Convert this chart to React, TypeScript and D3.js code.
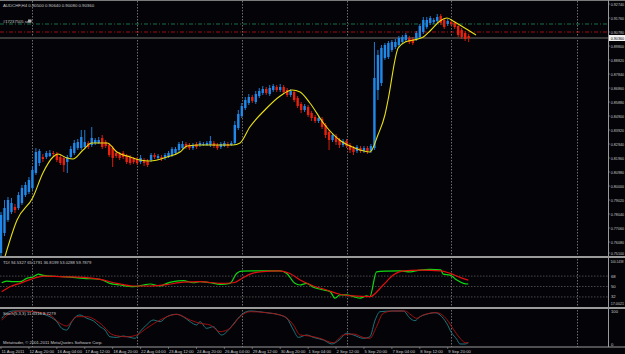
import React from "react";
import * as d3 from "d3";

// ---- candles (H4 bars, index 0 = 11 Aug 12:00) ----
const barOpen = [0.7531,0.7671,0.7762,0.7818,0.7853,0.7846,0.7881,0.7937,0.7958,0.7986,0.8091,0.8161,0.8203,0.8203,0.8210,0.8231,0.8224,0.8203,0.8196,0.8168,0.8203,0.8231,0.8266,0.8266,0.8273,0.8301,0.8287,0.8301,0.8301,0.8336,0.8308,0.8287,0.8266,0.8231,0.8224,0.8231,0.8210,0.8203,0.8189,0.8189,0.8168,0.8182,0.8175,0.8182,0.8217,0.8196,0.8203,0.8196,0.8203,0.8217,0.8231,0.8252,0.8266,0.8294,0.8287,0.8266,0.8294,0.8287,0.8287,0.8287,0.8287,0.8301,0.8287,0.8273,0.8280,0.8294,0.8287,0.8301,0.8406,0.8490,0.8546,0.8581,0.8623,0.8588,0.8630,0.8651,0.8679,0.8644,0.8672,0.8693,0.8672,0.8693,0.8672,0.8637,0.8658,0.8616,0.8574,0.8532,0.8553,0.8511,0.8483,0.8455,0.8469,0.8427,0.8378,0.8322,0.8350,0.8322,0.8287,0.8315,0.8287,0.8266,0.8245,0.8266,0.8245,0.8266,0.8245,0.8266,0.8672,0.8721,0.8896,0.8903,0.8952,0.8973,0.8987,0.9008,0.9022,0.9036,0.9029,0.9029,0.9043,0.9078,0.9113,0.9141,0.9148,0.9155,0.9190,0.9162,0.9134,0.9148,0.9141,0.9120,0.9092,0.9071,0.9050];
const barHigh = [0.7818,0.7902,0.7923,0.7916,0.7874,0.7958,0.8007,0.8028,0.8063,0.8140,0.8266,0.8259,0.8224,0.8245,0.8252,0.8245,0.8238,0.8217,0.8210,0.8217,0.8280,0.8322,0.8329,0.8392,0.8392,0.8315,0.8413,0.8336,0.8343,0.8357,0.8322,0.8301,0.8280,0.8245,0.8238,0.8245,0.8224,0.8217,0.8203,0.8203,0.8217,0.8196,0.8189,0.8231,0.8231,0.8224,0.8217,0.8231,0.8245,0.8273,0.8273,0.8308,0.8315,0.8308,0.8301,0.8301,0.8308,0.8315,0.8308,0.8315,0.8350,0.8315,0.8301,0.8308,0.8315,0.8308,0.8315,0.8455,0.8532,0.8581,0.8623,0.8644,0.8637,0.8665,0.8686,0.8700,0.8693,0.8707,0.8714,0.8707,0.8714,0.8707,0.8686,0.8679,0.8672,0.8630,0.8588,0.8574,0.8567,0.8525,0.8497,0.8490,0.8483,0.8441,0.8392,0.8371,0.8364,0.8336,0.8329,0.8329,0.8301,0.8280,0.8287,0.8280,0.8280,0.8280,0.8294,0.9008,0.8952,0.8987,0.9001,0.9015,0.9022,0.9029,0.9050,0.9057,0.9071,0.9050,0.9043,0.9085,0.9134,0.9183,0.9183,0.9190,0.9176,0.9204,0.9204,0.9176,0.9169,0.9162,0.9155,0.9134,0.9106,0.9085,0.9064];
const barLow = [0.7510,0.7650,0.7748,0.7804,0.7811,0.7832,0.7867,0.7923,0.7944,0.7972,0.8077,0.8140,0.8168,0.8189,0.8203,0.8210,0.8168,0.8147,0.8098,0.8091,0.8189,0.8217,0.8252,0.8252,0.8259,0.8259,0.8273,0.8287,0.8294,0.8259,0.8266,0.8203,0.8133,0.8196,0.8182,0.8189,0.8154,0.8147,0.8154,0.8147,0.8154,0.8140,0.8133,0.8168,0.8189,0.8182,0.8175,0.8182,0.8196,0.8203,0.8217,0.8238,0.8259,0.8259,0.8252,0.8252,0.8259,0.8273,0.8280,0.8280,0.8273,0.8266,0.8252,0.8259,0.8273,0.8266,0.8280,0.8287,0.8392,0.8476,0.8532,0.8567,0.8581,0.8574,0.8616,0.8637,0.8637,0.8630,0.8658,0.8658,0.8658,0.8644,0.8623,0.8623,0.8588,0.8546,0.8511,0.8518,0.8483,0.8455,0.8441,0.8441,0.8399,0.8336,0.8252,0.8308,0.8287,0.8266,0.8273,0.8266,0.8231,0.8217,0.8231,0.8231,0.8231,0.8224,0.8231,0.8252,0.8602,0.8700,0.8882,0.8889,0.8938,0.8959,0.8973,0.8994,0.9008,0.8994,0.8987,0.9015,0.9029,0.9064,0.9099,0.9127,0.9134,0.9141,0.9127,0.9099,0.9120,0.9120,0.9099,0.9043,0.9029,0.9015,0.9008];
const barClose = [0.7797,0.7846,0.7902,0.7881,0.7832,0.7937,0.7986,0.8007,0.8042,0.8112,0.8238,0.8245,0.8189,0.8231,0.8231,0.8224,0.8182,0.8161,0.8147,0.8203,0.8259,0.8301,0.8308,0.8343,0.8308,0.8273,0.8336,0.8322,0.8322,0.8273,0.8280,0.8217,0.8196,0.8210,0.8196,0.8203,0.8168,0.8161,0.8168,0.8161,0.8196,0.8161,0.8147,0.8217,0.8203,0.8210,0.8189,0.8217,0.8231,0.8259,0.8259,0.8294,0.8294,0.8273,0.8266,0.8287,0.8273,0.8301,0.8294,0.8301,0.8315,0.8280,0.8266,0.8294,0.8301,0.8280,0.8301,0.8427,0.8504,0.8560,0.8602,0.8623,0.8595,0.8644,0.8665,0.8679,0.8651,0.8686,0.8700,0.8672,0.8693,0.8658,0.8637,0.8665,0.8602,0.8560,0.8532,0.8560,0.8497,0.8476,0.8455,0.8476,0.8413,0.8357,0.8322,0.8357,0.8308,0.8287,0.8315,0.8280,0.8252,0.8238,0.8273,0.8245,0.8266,0.8245,0.8280,0.8756,0.8917,0.8966,0.8987,0.9001,0.9008,0.9008,0.9036,0.9043,0.9057,0.9008,0.9001,0.9071,0.9120,0.9162,0.9162,0.9176,0.9162,0.9183,0.9141,0.9113,0.9155,0.9134,0.9113,0.9057,0.9043,0.9029,0.9036];

// ---- moving average (bar index, price) ----
const maPoints: [number, number][] = [[1.1,0.7503],[4.6,0.7762],[9.2,0.7923],[12,0.8091],[14.9,0.8203],[16.3,0.8224],[18.9,0.8196],[20.6,0.8189],[23.5,0.8252],[26,0.8301],[28.4,0.8301],[30.4,0.8301],[33.2,0.8238],[37,0.8203],[39.8,0.8182],[42.7,0.8175],[47.6,0.8203],[51.3,0.8238],[53.3,0.8280],[57,0.8287],[66.5,0.8287],[68.5,0.8301],[71.3,0.8413],[75.6,0.8532],[80,0.8630],[83.4,0.8672],[85.7,0.8658],[88.5,0.8581],[92.8,0.8427],[97,0.8322],[101.4,0.8266],[105.7,0.8238],[108,0.8357],[110,0.8497],[110.9,0.8602],[113.8,0.8966],[115.8,0.9008],[119.5,0.9029],[121,0.9043],[123.2,0.9092],[125.8,0.9155],[127.8,0.9176],[130,0.9148],[132.4,0.9113],[136.1,0.9057]];

// ---- TDI ----
const tdiGreen: [number, number][] = [[0.2,56.5],[1.6,59.4],[3.5,58.3],[5.4,58.3],[7.4,64],[9.3,66.8],[10.7,71.4],[12.1,69.2],[14,68],[18.8,66.8],[23.6,64],[28.4,62.3],[31.2,55.5],[34.1,52.6],[37.9,49.7],[40.8,52.6],[42.7,54.3],[45.6,50.9],[47.5,55.5],[49.4,58.3],[52.2,60],[55.1,56.5],[57,58.3],[59.9,56.5],[62.8,53.8],[65.6,55.5],[67.5,72.6],[69,76.6],[72.3,77.1],[76.1,77.1],[79.9,77.1],[81.9,72.6],[84.2,55.5],[85.7,52.6],[87.6,55.5],[89.5,48.6],[92.4,44],[94.3,41.1],[95.7,29.8],[97.1,35.4],[99,35.4],[101,32.5],[102.9,29.8],[104.8,33.7],[105.7,32.5],[107.6,75.4],[110.5,76.6],[114.3,77.1],[117.2,75.4],[120,78.3],[123,79.5],[126,78.8],[126.7,71.4],[128.7,69.7],[130.6,61.1],[132.5,55.5],[133.9,54.3]];
const tdiRed: [number, number][] = [[0.2,41.1],[2.6,49.7],[5.4,55.5],[9.3,64],[12.1,68],[18.8,66.8],[23.6,65.8],[28.4,62.3],[33.2,55.5],[37.9,50.9],[42.7,50.9],[47.5,53.1],[52.2,57.7],[57,58.3],[62.8,55.5],[66.6,56.5],[69,64],[71.4,71.4],[74.2,75.4],[79.9,77.1],[82.8,72.6],[85.7,61.1],[89.5,50.9],[93.3,44],[97.1,36.6],[101,33.7],[105.7,32.5],[109.5,52.6],[112.4,69.7],[115.3,77.1],[120,78.3],[126,77.1],[128.7,72.6],[131.5,65.8],[133.9,61.1]];
const tdiLevels = [68, 50, 32];
const tdiScaleLabels = ["100.1438", "17.0021"];

// ---- Stochastic ----
const stochMain: [number, number][] = [[0.2,77.9],[1.6,93],[3.5,100],[7.4,100],[11.2,93],[14,82.7],[16,67.6],[17.4,47.5],[18.8,42.4],[20.3,67.6],[21.7,84.8],[22.6,87.9],[24.6,77.9],[26.4,70.6],[28.4,52.4],[29.8,42.4],[31.2,22],[33.2,20],[35,24.2],[37,20],[38.4,17.2],[39.8,37.3],[41.7,57.6],[43.6,72.7],[45.6,67.6],[47.5,82.7],[50.3,90],[52.2,82.7],[54.2,67.6],[56.1,57.6],[57,67.6],[58.9,47.5],[60.8,52.4],[63.2,27.3],[65.6,47.5],[67.5,72.7],[69.4,93],[71.4,100],[76.1,94.8],[79.9,87.9],[81.9,77.9],[83.8,42.4],[85.2,20],[87.6,27.3],[89.5,20],[92.4,12.1],[94.8,0],[97.1,14.2],[99,32.4],[101,27.3],[103.8,17.2],[105.7,22],[107.2,72.7],[108.6,97.9],[112.4,100],[115.3,100],[117.2,77.9],[118.6,70.6],[120,82.7],[121.5,88.8],[124.3,94.8],[125.8,87.9],[127.7,62.7],[129.1,34.2],[130.6,14.2],[131.5,0],[133,0],[133.9,3.9]];
const stochSignal: [number, number][] = [[0.2,72.7],[2.6,93],[5.4,100],[9.3,97.9],[14,87.9],[16.9,62.7],[18.8,54.5],[21.7,82.7],[24.6,82.7],[28.4,62.7],[32.2,27.3],[36,22],[38.9,27.3],[41.7,47.5],[45.6,72.7],[50.3,90],[54.2,72.7],[57,62.7],[59.9,57.6],[62.8,37.3],[65.6,47.5],[68.5,82.7],[71.4,97.9],[76.1,94.8],[80.9,84.8],[83.8,57.6],[85.7,27.3],[88.5,24.2],[91.4,17.2],[95.2,3.9],[98.1,27.3],[101,30.3],[103.8,20],[105.7,17.2],[107.6,52.4],[109.5,93],[112.4,100],[115.8,100],[117.5,88],[119.1,78],[121,88],[124.8,95],[127.7,75],[129.6,45],[131.5,18],[133,4],[133.9,3.9]];
const stochScaleLabels = ["100", "0"];

// ---- axes ----
const priceTicks = ["0.92740","0.91760","0.90780","0.89800","0.88820","0.87840","0.86860","0.85880","0.84900","0.83920","0.82940","0.81960","0.80980","0.80000","0.79020","0.78040","0.77060","0.76080","0.75100"];
const dateLabels = ["11 Aug 2011","12 Aug 20:00","16 Aug 04:00","17 Aug 12:00","18 Aug 20:00","22 Aug 04:00","23 Aug 12:00","24 Aug 20:00","26 Aug 04:00","29 Aug 12:00","30 Aug 20:00","1 Sep 04:00","2 Sep 12:00","5 Sep 20:00","7 Sep 04:00","8 Sep 12:00","9 Sep 20:00"];
const dateLabelBars = [0,8,16,24,32,40,48,56,64,72,80,88,96,104,112,120,128];
const gridBars = [9,39,69,99,129,165];
const orderLevels = [0.9134, 0.9078];
const orderLabel = "#17237505 sell";

const FONT = "'Liberation Sans', Arial, sans-serif";
const TXT = "#c8c8c8";

export default function App() {
  const n = barClose.length;
  const x = d3.scaleLinear().domain([0, n - 1]).range([1, 1 + (n - 1) * 3.49]);
  const yP = d3.scaleLinear().domain([0.7517, 0.9274]).range([255, 4]);
  const yT = d3.scaleLinear().domain([17.0021, 100.1438]).range([305.6, 257.5]);
  const yS = d3.scaleLinear().domain([0, 100]).range([344, 311]);

  const mk = (ys: d3.ScaleLinear<number, number>) =>
    d3.line<[number, number]>().x((d) => x(d[0])).y((d) => ys(d[1])).curve(d3.curveMonotoneX);

  const plotRight = 608;
  const last = n - 1;
  const header = `AUDCHF,H4 ${barOpen[last].toFixed(5)} ${barHigh[last].toFixed(5)} ${barLow[last].toFixed(5)} ${barClose[last].toFixed(5)}`;
  const bidY = yP(barClose[last]);
  const axisText = (s: string) => ({
    textLength: Math.min(13.2, s.length * 2.05),
    lengthAdjust: "spacingAndGlyphs" as const,
  });

  return (
    <div style={{ position: "fixed", left: 0, top: 0, width: 625, height: 354, background: "#000" }}>
      <svg width={625} height={354} style={{ display: "block", fontFamily: FONT }}>
        <rect x={0} y={0} width={625} height={354} fill="#040408" />
        <defs>
          <clipPath id="cMain"><rect x={0} y={1} width={plotRight} height={255} /></clipPath>
          <clipPath id="cTdi"><rect x={0} y={259} width={plotRight} height={48} /></clipPath>
          <clipPath id="cSto"><rect x={0} y={310} width={plotRight} height={36} /></clipPath>
        </defs>

        {/* vertical grid */}
        {gridBars.map((b) => (
          <line key={"g" + b} x1={Math.round(x(b)) + 0.5} x2={Math.round(x(b)) + 0.5} y1={1} y2={347}
            stroke="#8a8a8a" strokeWidth={0.8} strokeDasharray="1.5,1.5" />
        ))}

        {/* TDI levels */}
        {tdiLevels.map((v) => (
          <line key={"l" + v} x1={0} x2={plotRight} y1={yT(v)} y2={yT(v)} stroke="#777" strokeWidth={0.6} strokeDasharray="1.5,1.5" />
        ))}

        {/* bid line & order lines */}
        <line x1={0} x2={plotRight} y1={bidY} y2={bidY} stroke="#3a3a3a" strokeWidth={2} />
        <line x1={0} x2={plotRight} y1={yP(orderLevels[0])} y2={yP(orderLevels[0])} stroke="#1f8a5a" strokeWidth={0.8} strokeDasharray="4,2,1,2" />
        <line x1={0} x2={plotRight} y1={yP(orderLevels[1])} y2={yP(orderLevels[1])} stroke="#c81010" strokeWidth={0.8} strokeDasharray="4,2,1,2" />

        {/* candles */}
        <g clipPath="url(#cMain)">
          {barClose.map((c, i) => {
            const o = barOpen[i];
            const up = c >= o;
            const col = up ? "#2088e8" : "#e8200c";
            const cx = x(i);
            const top = yP(Math.max(o, c));
            const bot = yP(Math.min(o, c));
            return (
              <g key={"c" + i}>
                <line x1={cx} x2={cx} y1={yP(barHigh[i])} y2={yP(barLow[i])} stroke={col} strokeWidth={0.9} />
                <rect x={cx - 1.2} y={top} width={2.4} height={Math.max(bot - top, 0.8)} fill={col} />
              </g>
            );
          })}
          <path d={mk(yP)(maPoints) || ""} fill="none" stroke="#e8e010" strokeWidth={1.1} />
        </g>

        {/* TDI lines */}
        <g clipPath="url(#cTdi)">
          <path d={mk(yT)(tdiGreen) || ""} fill="none" stroke="#10d810" strokeWidth={1.2} />
          <path d={mk(yT)(tdiRed) || ""} fill="none" stroke="#e01010" strokeWidth={1.2} />
        </g>

        {/* Stoch lines */}
        <g clipPath="url(#cSto)">
          <path d={mk(yS)(stochMain) || ""} fill="none" stroke="#1f8088" strokeWidth={0.9} />
          <path d={mk(yS)(stochSignal) || ""} fill="none" stroke="#b01010" strokeWidth={0.9} />
        </g>

        {/* frame & separators */}
        <rect x={0} y={0} width={625} height={1} fill="#7a7a7a" />
        <rect x={0} y={256} width={625} height={2} fill="#9a9a9a" />
        <rect x={0} y={307} width={625} height={2} fill="#9a9a9a" />
        <rect x={0} y={346.5} width={625} height={1} fill="#9a9a9a" />
        <line x1={plotRight + 0.5} x2={plotRight + 0.5} y1={0} y2={347} stroke="#9a9a9a" strokeWidth={1} />

        {/* price axis */}
        {priceTicks.map((t) => {
          const ty = Math.min(yP(+t), 253);
          return (
            <g key={"p" + t}>
              <line x1={plotRight} x2={plotRight + 2} y1={ty} y2={ty} stroke="#9a9a9a" strokeWidth={0.6} />
              <text x={610.8} y={ty + 1.5} fontSize={4.2} fill={TXT} {...axisText(t)}>{t}</text>
            </g>
          );
        })}
        <rect x={609} y={bidY - 3} width={16} height={6} fill="#f0f0f0" />
        <text x={610.8} y={bidY + 1.5} fontSize={4.2} fill="#000" {...axisText("0.00000")}>{barClose[last].toFixed(5)}</text>

        {/* TDI axis labels */}
        <text x={610.5} y={yT(100.1438) + 5.5} fontSize={4} fill={TXT} textLength={13} lengthAdjust="spacingAndGlyphs">{tdiScaleLabels[0]}</text>
        {tdiLevels.map((v) => (
          <text key={"tl" + v} x={611} y={yT(v) + 1.5} fontSize={4.2} fill={TXT}>{String(v)}</text>
        ))}
        <text x={610.8} y={yT(17.0021) - 0.5} fontSize={4.1} fill={TXT} {...axisText(tdiScaleLabels[1])}>{tdiScaleLabels[1]}</text>
        <text x={611} y={yS(100) + 1.5} fontSize={4.2} fill={TXT}>{stochScaleLabels[0]}</text>
        <text x={611} y={yS(0) + 1.5} fontSize={4.2} fill={TXT}>{stochScaleLabels[1]}</text>

        {/* date axis */}
        {dateLabels.map((d, i) => (
          <g key={"d" + i}>
            <line x1={x(dateLabelBars[i])} x2={x(dateLabelBars[i])} y1={347} y2={349} stroke="#9a9a9a" strokeWidth={0.6} />
            <text x={x(dateLabelBars[i]) + 0.5} y={352.5} fontSize={4.2} fill={TXT}>{d}</text>
          </g>
        ))}

        {/* texts */}
        <text x={3} y={6.5} fontSize={4.3} fill={TXT}>{header}</text>
        <text x={3} y={23} fontSize={4.1} fill={TXT}>{orderLabel}</text>
        <rect x={28} y={19.5} width={3.5} height={3} fill="#b0b0b0" />
        <text x={3} y={264} fontSize={4.2} fill={TXT}>TDI 94.5327 65.1791 36.8199 53.0288 59.7879</text>
        <text x={3} y={314.5} fontSize={4.2} fill={TXT}>Stoch(5,3,3) 11.3316 8.7279</text>
        <text x={3} y={344} fontSize={4.2} fill={TXT}>Metatrader, © 2001-2011 MetaQuotes Software Corp.</text>
      </svg>
    </div>
  );
}
